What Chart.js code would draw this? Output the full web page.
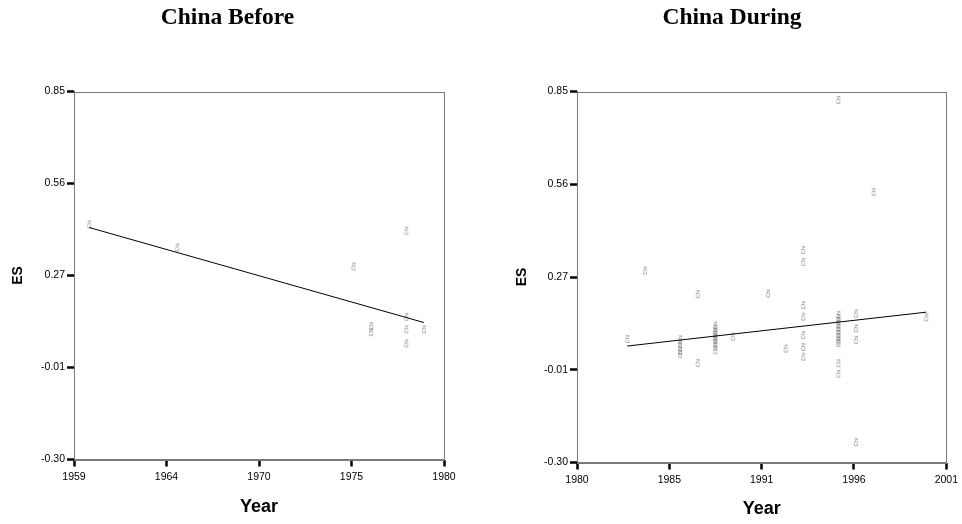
<!DOCTYPE html>
<html>
<head>
<meta charset="utf-8">
<script src="https://cdn.jsdelivr.net/npm/chart.js@4.4.1/dist/chart.umd.min.js"></script>
<style>
  body { margin: 0; background: #fff; }
  .panel { position: absolute; top: 0; width: 481px; height: 524px; }
</style>
</head>
<body>
<div class="panel" style="left:0"><canvas id="before" width="481" height="524"></canvas></div>
<div class="panel" style="left:481px"><canvas id="during" width="481" height="524"></canvas></div>
<script>
// effect sizes by year, before
const beforeYears = [1960, 1965, 1975, 1976, 1976, 1978, 1978, 1978, 1978, 1979];
const beforeES    = [0.435, 0.363, 0.303, 0.117, 0.098, 0.415, 0.146, 0.107, 0.063, 0.107];
const beforeFitYears = [1960, 1979];
const beforeFitES    = [0.425, 0.128];

// effect sizes by year, during
const duringYears = [
  1983, 1984,
  1986, 1986, 1986, 1986, 1986,
  1987, 1987,
  1988, 1988, 1988, 1988, 1988, 1988, 1988, 1988, 1988,
  1989, 1991, 1992,
  1993, 1993, 1993, 1993, 1993, 1993, 1993,
  1995, 1995, 1995, 1995, 1995, 1995, 1995, 1995, 1995, 1995, 1995, 1995, 1995,
  1996, 1996, 1996, 1996,
  1997, 2000
];
const duringES = [
  0.083, 0.295,
  0.082, 0.068, 0.057, 0.046, 0.036,
  0.222, 0.009,
  0.125, 0.115, 0.105, 0.097, 0.088, 0.080, 0.070, 0.060, 0.048,
  0.090, 0.224, 0.053,
  0.359, 0.322, 0.188, 0.152, 0.095, 0.058, 0.028,
  0.824, 0.158, 0.148, 0.138, 0.128, 0.118, 0.108, 0.098, 0.088, 0.078, 0.070, 0.008, -0.025,
  0.162, 0.116, 0.080, -0.237,
  0.539, 0.150
];
const duringFitYears = [1983, 2000];
const duringFitES    = [0.061, 0.166];

// axes
const yTickValues = [-0.30, -0.0125, 0.275, 0.5625, 0.85];
const yTickLabels = ['-0.30', '-0.01', '0.27', '0.56', '0.85'];
const beforeXTicks = [1959.14, 1964.39, 1969.64, 1974.89, 1980.14];
const beforeXLabels = ['1959', '1964', '1970', '1975', '1980'];
const duringXTicks = [1980.14, 1985.39, 1990.64, 1995.89, 2001.14];
const duringXLabels = ['1980', '1985', '1991', '1996', '2001'];

// small vertical "Chi" label used as the point marker
const chiMark = document.createElement('canvas');
chiMark.width = 6;
chiMark.height = 10;
const mctx = chiMark.getContext('2d');
mctx.translate(3, 5);
mctx.rotate(-Math.PI / 2);
mctx.fillStyle = '#7e7e7e';
mctx.font = '5.5px "Liberation Sans"';
mctx.textAlign = 'center';
mctx.textBaseline = 'middle';
mctx.fillText('Chi', 0, 0);

const plotBox = {
  id: 'plotBox',
  afterDraw(chart) {
    const a = chart.chartArea;
    const ctx = chart.ctx;
    ctx.save();
    ctx.strokeStyle = '#7a7a7a';
    ctx.lineWidth = 1;
    ctx.strokeRect(Math.round(a.left) + 0.5, Math.round(a.top) + 0.5,
      Math.round(a.right - a.left), Math.round(a.bottom - a.top));
    ctx.restore();
  }
};

function drawPanel(id, cfg) {
  const points = cfg.years.map((yr, i) => ({ x: yr, y: cfg.es[i] }));
  const fit = cfg.fitYears.map((yr, i) => ({ x: yr, y: cfg.fitES[i] }));
  const tickGrid = {
    drawOnChartArea: false,
    drawTicks: true,
    tickLength: 7,
    tickWidth: 2.5,
    tickColor: '#000'
  };
  new Chart(document.getElementById(id), {
    type: 'scatter',
    data: {
      datasets: [
        {
          data: fit,
          showLine: true,
          borderColor: '#000',
          borderWidth: 1,
          pointRadius: 0
        },
        {
          data: points,
          pointStyle: chiMark,
          pointRadius: 3
        }
      ]
    },
    options: {
      responsive: false,
      animation: false,
      layout: { padding: { left: cfg.padLeft, right: cfg.padRight, top: 0, bottom: 0 } },
      plugins: {
        legend: { display: false },
        tooltip: { enabled: false },
        title: {
          display: true,
          text: cfg.title,
          color: '#000',
          font: { family: '"Liberation Serif"', size: 23.5, weight: 'bold', lineHeight: 1.2 },
          padding: { top: 4.2, bottom: 59.1 }
        }
      },
      scales: {
        x: {
          type: 'linear',
          min: cfg.xTicks[0],
          max: cfg.xTicks[cfg.xTicks.length - 1],
          afterBuildTicks: s => { s.ticks = cfg.xTicks.map(v => ({ value: v })); },
          afterFit: s => { s.height = cfg.xHeight; },
          ticks: {
            autoSkip: false,
            maxRotation: 0,
            padding: 4,
            color: '#000',
            font: { family: '"Liberation Sans"', size: 10.5 },
            callback: (v, i) => cfg.xLabels[i]
          },
          grid: tickGrid,
          border: { display: true, color: '#7a7a7a', width: 1 },
          title: {
            display: true,
            text: 'Year',
            color: '#000',
            font: { family: '"Liberation Sans"', size: 18, weight: 'bold' },
            padding: { top: 0, bottom: cfg.yearPad }
          }
        },
        y: {
          min: -0.30,
          max: 0.85,
          afterBuildTicks: s => { s.ticks = yTickValues.map(v => ({ value: v })); },
          afterFit: s => { s.width = cfg.yWidth; },
          ticks: {
            autoSkip: false,
            padding: 2,
            color: '#000',
            font: { family: '"Liberation Sans"', size: 10.5 },
            callback: (v, i) => yTickLabels[i]
          },
          grid: tickGrid,
          border: { display: true, color: '#7a7a7a', width: 1 },
          title: {
            display: true,
            text: 'ES',
            color: '#000',
            font: { family: '"Liberation Sans"', size: 14, weight: 'bold', lineHeight: cfg.esLine },
            padding: 0
          }
        }
      }
    },
    plugins: [plotBox]
  });
}

drawPanel('before', {
  title: 'China Before',
  years: beforeYears, es: beforeES,
  fitYears: beforeFitYears, fitES: beforeFitES,
  xTicks: beforeXTicks, xLabels: beforeXLabels,
  padLeft: 11, padRight: 37, yWidth: 63, xHeight: 64.5,
  yearPad: 5.7, esLine: 1
});

drawPanel('during', {
  title: 'China During',
  years: duringYears, es: duringES,
  fitYears: duringFitYears, fitES: duringFitES,
  xTicks: duringXTicks, xLabels: duringXLabels,
  padLeft: 35.3, padRight: 14.3, yWidth: 60.7, xHeight: 61.5,
  yearPad: 4.2, esLine: 0.8
});
</script>
</body>
</html>
